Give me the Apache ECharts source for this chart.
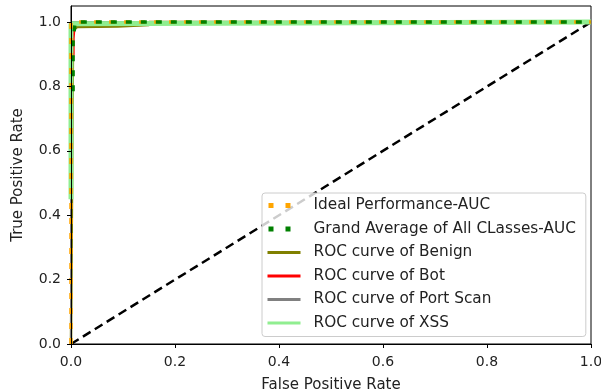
<!DOCTYPE html>
<html>
<head>
<meta charset="utf-8">
<script src="https://cdn.jsdelivr.net/npm/echarts@6/dist/echarts.min.js"></script>
<style>
  html, body { margin: 0; padding: 0; background: #fff; }
  #chart { width: 601px; height: 392px; }
</style>
</head>
<body>
<div id="chart"></div>
<script>
// tick labels
const ticks = [0, 0.2, 0.4, 0.6, 0.8, 1.0]

// reference lines
const diagFpr = [0, 1]
const diagTpr = [0, 1]
const idealFpr = [0, 0, 1]
const idealTpr = [0, 1, 1]

// ROC curves (fpr / tpr pairs)
const avgFpr = [0.004, 0.004, 0.008, 1]
const avgTpr = [0.76, 0.94, 1.0, 1.0]
const benignFpr = [0, 0.004, 0.012, 0.09, 0.15, 0.15, 1]
const benignTpr = [0, 0.975, 0.985, 0.986, 0.991, 1.0, 1.0]
const botFpr = [0, 0, 0.005, 0.005, 0.008, 1]
const botTpr = [0, 0.86, 0.9, 0.95, 1.0, 1.0]
const portScanFpr = [0, 0, 1]
const portScanTpr = [0, 1, 1]
const xssFpr = [0, 0, 0.002, 1]
const xssTpr = [0.45, 0.995, 1.0, 1.0]

const names = [
  'Ideal Performance-AUC',
  'Grand Average of All CLasses-AUC',
  'ROC curve of Benign',
  'ROC curve of Bot',
  'ROC curve of Port Scan',
  'ROC curve of XSS'
]

const pairs = (xs, ys) => xs.map((x, i) => [x, ys[i]])

const font = 'DejaVu Sans'
const textColor = '#222'

const chart = echarts.init(document.getElementById('chart'))

const line = (name, xs, ys, color, width, type, z, offset) => ({
  name,
  type: 'line',
  data: pairs(xs, ys),
  symbol: 'none',
  animation: false,
  z,
  lineStyle: { color, width, type, dashOffset: offset || 0 },
  itemStyle: { color }
})

const option = {
  animation: false,
  textStyle: { fontFamily: font },
  grid: {
    left: 71, right: 10, top: 6, bottom: 48,
    outerBoundsMode: 'none',
    containLabel: false,
    show: true, borderColor: '#000', borderWidth: 1
  },
  xAxis: {
    type: 'value',
    z: 20,
    min: 0, max: 1, interval: 0.2,
    name: 'False Positive Rate',
    nameLocation: 'middle',
    nameGap: 34,
    nameTextStyle: { fontSize: 15, color: textColor, fontFamily: font },
    axisLine: { show: true, lineStyle: { color: '#000', width: 1 } },
    axisTick: { show: true, length: 4, lineStyle: { color: '#000' } },
    axisLabel: { fontSize: 14, color: textColor, margin: 11, fontFamily: font, formatter: v => v.toFixed(1) },
    splitLine: { show: false }
  },
  yAxis: {
    type: 'value',
    z: 20,
    min: 0, max: 1.05,
    name: 'True Positive Rate',
    nameLocation: 'middle',
    nameGap: 45,
    nameTextStyle: { fontSize: 15, color: textColor, fontFamily: font },
    axisLine: { show: true, lineStyle: { color: '#000', width: 1 } },
    axisTick: { show: true, length: 4, lineStyle: { color: '#000' }, customValues: ticks },
    axisLabel: { fontSize: 14, color: textColor, margin: 10, fontFamily: font, customValues: ticks, formatter: v => v.toFixed(1) },
    splitLine: { show: false }
  },
  legend: {
    orient: 'vertical',
    left: 262,
    top: 193,
    padding: [5, 10, 6, 3],
    itemWidth: 33,
    itemHeight: 14,
    itemGap: 8.5,
    backgroundColor: 'rgba(255,255,255,0.8)',
    borderColor: '#ccc',
    borderWidth: 1,
    borderRadius: 3,
    itemStyle: { opacity: 0 },
    textStyle: { fontSize: 15.3, color: textColor, fontFamily: font, padding: [0, 0, 0, 8] },
    data: names.map((n, i) => i < 2
      ? { name: n, lineStyle: { width: 5, type: [5, 12], dashOffset: -1 } }
      : { name: n, lineStyle: { width: 3 } })
  },
  series: [
    line('diag', diagFpr, diagTpr, '#000', 2.5, [9, 5], 2),
    line(names[0], idealFpr, idealTpr, '#ffa500', 3.5, [6, 9], 8),
    line(names[1], avgFpr, avgTpr, '#008000', 3.5, [6, 9], 9, 7),
    line(names[2], benignFpr, benignTpr, '#808000', 2.5, 'solid', 3),
    line(names[3], botFpr, botTpr, '#ff0000', 2, 'solid', 4),
    line(names[4], portScanFpr, portScanTpr, '#808080', 2, 'solid', 5),
    line(names[5], xssFpr, xssTpr, '#90ee90', 5, 'solid', 6)
  ]
}

chart.setOption(option)
</script>
</body>
</html>
